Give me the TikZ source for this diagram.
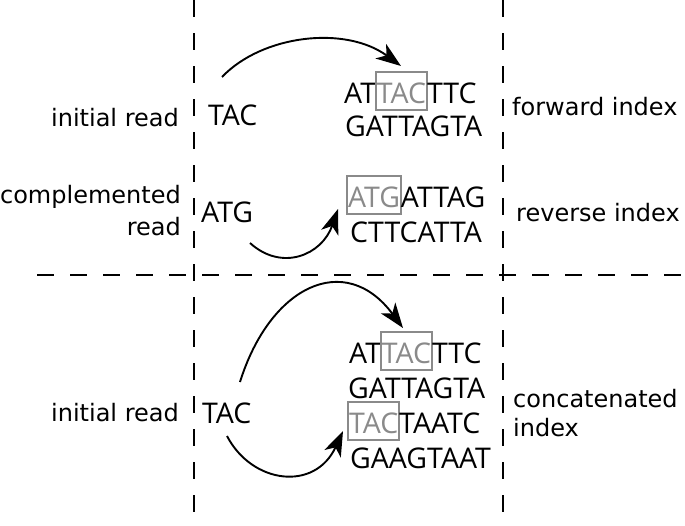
\documentclass[tikz,border=0pt]{standalone}
\usepackage{fontspec}
\setmainfont{DejaVu Sans}
\newfontfamily\seqfont{Open Sans}
\usetikzlibrary{arrows.meta}
\definecolor{boxgray}{HTML}{8A8A8A}
\newcommand\gbox[1]{{\color{boxgray}\setlength\fboxsep{0pt}\setlength\fboxrule{1.8pt}\kern-0.9pt\fbox{\rule[-6pt]{0pt}{36pt}#1}\kern-0.9pt}}
\begin{document}
\begin{tikzpicture}[x=1pt,y=-1pt,
  seq/.style={inner sep=0pt,anchor=base west,font=\seqfont\fontsize{28.5}{33}\selectfont},
  lbl/.style={inner sep=0pt,font=\fontsize{24}{32}\selectfont},
  divider/.style={line width=1.4pt,dash pattern=on 17pt off 16pt},
  curvearrow/.style={line width=1.9pt,-{Stealth[length=25pt,width=18pt,inset=7pt]}}]
\useasboundingbox (0,0) rectangle (685,525);
% dividers
\draw[divider] (194,0) -- (194,525);
\draw[divider] (503,0) -- (503,525);
\draw[divider] (37,275) -- (685,275);
% labels
\node[lbl,anchor=base east] (l1) at (179,126) {initial read};
\node[lbl,anchor=base east] (l2a) at (181,203) {complemented};
\node[lbl,anchor=base east] (l2b) at (181,235) {read};
\node[lbl,anchor=base east] (l3) at (179,421) {initial read};
\node[lbl,anchor=base west] (r1) at (512,115) {forward index};
\node[lbl,anchor=base west] (r2) at (516,221) {reverse index};
\node[lbl,anchor=base west] (r3a) at (513,407) {concatenated};
\node[lbl,anchor=base west] (r3b) at (513,436) {index};
% reads
\node[seq] (q1) at (208,125) {TAC};
\node[seq] (q2) at (201,222) {ATG};
\node[seq] (q3) at (202,423) {TAC};
% forward index
\node[seq] (f1) at (344,103) {AT\gbox{TAC}TTC};
\node[seq] (f2) at (345,136) {GATTAGTA};
% reverse index
\node[seq] (v1) at (347,207) {\gbox{ATG}ATTAG};
\node[seq] (v2) at (350,242) {CTTCATTA};
% concatenated index
\node[seq] (c1) at (349,363) {AT\gbox{TAC}TTC};
\node[seq] (c2) at (348,398) {GATTAGTA};
\node[seq] (c3) at (348,433) {\gbox{TAC}TAATC};
\node[seq] (c4) at (350,468) {GAAGTAAT};
% arrow end points
\coordinate (s1) at (222,77);  \coordinate (e1) at (401,66);
\coordinate (s2) at (250,243); \coordinate (e2) at (338,209);
\coordinate (s3) at (240,382); \coordinate (e3) at (403,328);
\coordinate (s4) at (227,436); \coordinate (e4) at (343,431);
\draw[curvearrow] (s1) .. controls (262,35) and (345,25) .. (e1);
\draw[curvearrow] (s2) .. controls (282,272) and (322,255) .. (e2);
\draw[curvearrow] (s3) .. controls (270,286) and (345,250) .. (e3);
\draw[curvearrow] (s4) .. controls (252,484) and (315,492) .. (e4);
\end{tikzpicture}
\end{document}
